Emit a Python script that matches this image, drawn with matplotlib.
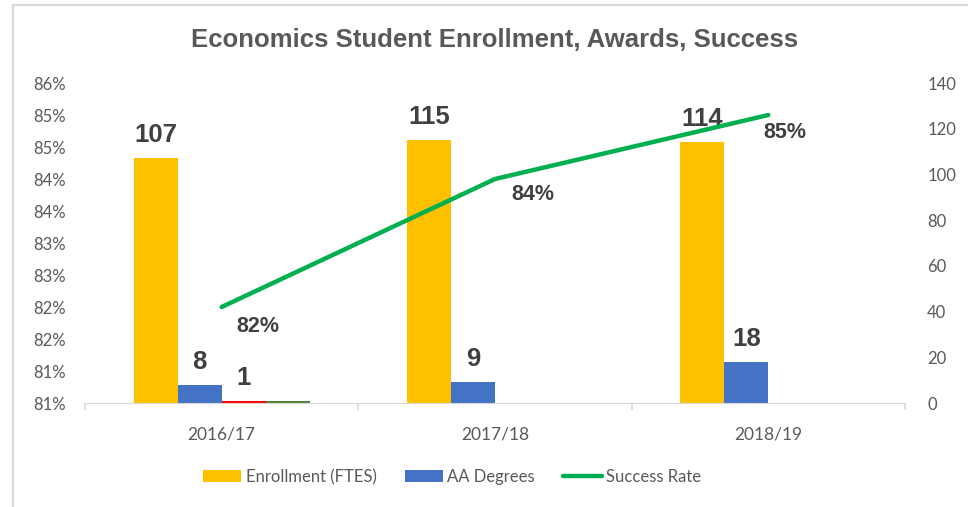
import math
import numpy as np
import matplotlib.pyplot as plt
from matplotlib.lines import Line2D
from matplotlib.ticker import FuncFormatter

# data
years = ["2016/17", "2017/18", "2018/19"]
enrollment = [107, 115, 114]
aa_degrees = [8, 9, 18]
other_red = [1, 0, 0]      # small extra series, not in the legend
other_green = [1, 0, 0]
success_rate = [82.0, 84.0, 85.0]   # percent

lab_font = "Liberation Sans"
tick_font = "Lato"
grey = "#595959"
dark = "#404040"

fig = plt.figure(figsize=(9.68, 5.07), dpi=100)
ax = fig.add_axes([85 / 968, 1 - 403 / 507, 820 / 968, 320 / 507])
x = np.arange(len(years))
w = 0.161

series = [(enrollment, "#ffc000", "Enrollment (FTES)"),
          (aa_degrees, "#4472c4", "AA Degrees"),
          (other_red, "#ff0000", None),
          (other_green, "#548235", None)]
bars = []
for i, (vals, col, name) in enumerate(series):
    b = ax.bar(x + (i - 1.5) * w, vals, w, color=col, label=name, zorder=2)
    bars.append(b)
    for rect, v in zip(b, vals):
        if v == 0 or i == 3:
            continue
        ax.annotate(str(v), (rect.get_x() + rect.get_width() / 2, v),
                    xytext=(0, 8), textcoords="offset points",
                    ha="center", va="bottom", fontsize=18.5, fontweight="bold",
                    color=dark, family=lab_font)

ax.set_ylim(0, 140)
ax.set_yticks(range(0, 141, 20))
ax.set_xlim(-0.5, 2.5)

ax2 = ax.twinx()
ln, = ax2.plot(x, success_rate, color="#00b050", lw=3.2, solid_capstyle="round",
               label="Success Rate", zorder=3)
ax2.set_ylim(80.5, 85.5)
ax2.set_yticks(np.arange(80.5, 85.51, 0.5))
ax2.yaxis.set_major_formatter(FuncFormatter(lambda v, p: "%d%%" % math.floor(v + 0.5)))

# bars axis labelled on the right, percent axis on the left
ax.yaxis.tick_right()
ax2.yaxis.tick_left()

offsets = [(26, -14), (27, -11), (12, -12.5)]
for xi, v, off in zip(x, success_rate, offsets):
    ax2.annotate("%d%%" % round(v), (xi, v), xytext=off, textcoords="offset points",
                 ha="center", va="center", fontsize=15.5, fontweight="bold",
                 color=dark, family=lab_font)

for a in (ax, ax2):
    for s in ("top", "left", "right"):
        a.spines[s].set_visible(False)
    a.spines["bottom"].set_color("#d9d9d9")
    a.tick_params(axis="y", length=0, pad=14, labelsize=12, labelcolor=grey)
    for t in a.get_yticklabels():
        t.set_family(tick_font)
ax2.spines["bottom"].set_visible(False)
ax.tick_params(axis="y", pad=16)

ax.set_xticks(x)
ax.set_xticklabels(years, family=tick_font)
ax.set_xticks([-0.5, 0.5, 1.5, 2.5], minor=True)
ax.tick_params(axis="x", which="major", length=0, pad=17, labelsize=12.5, labelcolor=grey)
ax.tick_params(axis="x", which="minor", length=5, color="#d9d9d9", width=1.2)

fig.text(495 / 968, 1 - 40 / 507, "Economics Student Enrollment, Awards, Success",
         ha="center", va="center", fontsize=18.5, fontweight="bold",
         color=grey, family=lab_font)

handles = [bars[0], bars[1], ln]
leg = fig.legend(handles, ["Enrollment (FTES)", "AA Degrees", "Success Rate"],
                 loc="center", bbox_to_anchor=(452 / 968, 1 - 477 / 507), ncol=3,
                 frameon=False, handlelength=2.3, handleheight=0.7,
                 handletextpad=0.25, columnspacing=1.7,
                 prop={"family": tick_font, "size": 12})
for t in leg.get_texts():
    t.set_color(grey)

# chart border (light grey)
fig.add_artist(Line2D([13 / 968, 13 / 968, 1], [0, 1 - 5 / 507, 1 - 5 / 507],
                      color="#d9d9d9", lw=1.6, transform=fig.transFigure))

fig.savefig("out.png", dpi=100)
